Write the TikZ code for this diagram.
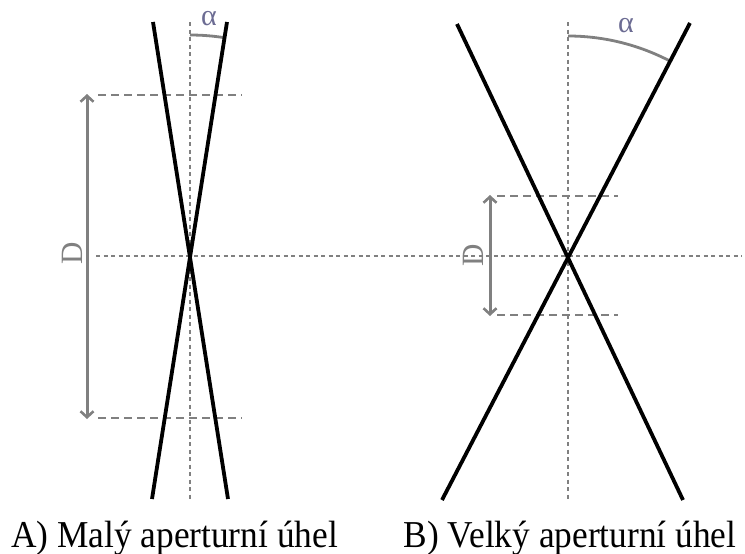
\documentclass[tikz,border=0pt]{standalone}
\usepackage{fontspec}
\setmainfont{Liberation Serif}
\usetikzlibrary{arrows.meta}
\begin{document}
\begin{tikzpicture}[x=1pt,y=-1pt,
  ray/.style={line width=3.8pt, black},
  guide/.style={gray, line width=2.8pt, dash pattern=on 8pt off 5pt},
  axis/.style={gray, line width=1.4pt, dash pattern=on 4pt off 3.5pt},
  dimarrow/.style={gray, line width=3pt, {Straight Barb[length=6pt,width=13pt,line width=2.6pt]}-{Straight Barb[length=6pt,width=13pt,line width=2.6pt]}},
  anglearc/.style={gray, line width=2.8pt},
  dlbl/.style={text=gray, font=\fontsize{31}{31}\selectfont, inner sep=0pt, rotate=90},
  albl/.style={text=gray!85!blue, font=\fontsize{30}{30}\selectfont, inner sep=0pt},
  caption/.style={font=\fontsize{38}{40}\selectfont, inner sep=0pt, anchor=base}]
\useasboundingbox (0,0) rectangle (745,554);
% coordinates
\coordinate (hl) at (96,256);
\coordinate (hr) at (742,256);
% left figure
\coordinate (LC) at (190,256);
\coordinate (LAt) at (190,22);
\coordinate (LAb) at (190,500);
\coordinate (LTL) at (153,22);
\coordinate (LBR) at (228,499);
\coordinate (LTR) at (227,22);
\coordinate (LBL) at (152,499);
\coordinate (LG1a) at (98,95);
\coordinate (LG1b) at (242,95);
\coordinate (LG2a) at (98,418);
\coordinate (LG2b) at (242,418);
\coordinate (LDa) at (87,94);
\coordinate (LDb) at (87,419);
% right figure
\coordinate (RC) at (568,256);
\coordinate (RAt) at (568,22);
\coordinate (RAb) at (568,500);
\coordinate (RTL) at (457,24);
\coordinate (RBR) at (683,500);
\coordinate (RTR) at (690,23);
\coordinate (RBL) at (442,500);
\coordinate (RG1a) at (497,196);
\coordinate (RG1b) at (618,196);
\coordinate (RG2a) at (497,315);
\coordinate (RG2b) at (618,315);
\coordinate (RDa) at (490,195);
\coordinate (RDb) at (490,316);
% axes
\draw[axis] (hl) -- (hr);
\draw[axis] (LAt) -- (LAb);
\draw[axis] (RAt) -- (RAb);
% guides
\draw[guide] (LG1a) -- (LG1b);
\draw[guide] (LG2a) -- (LG2b);
\draw[guide] (RG1a) -- (RG1b);
\draw[guide] (RG2a) -- (RG2b);
% dimension arrows
\draw[dimarrow] (LDa) -- (LDb);
\draw[dimarrow] (RDa) -- (RDb);
\node[dlbl] (LD) at (72,253) {D};
\node[dlbl] (RD) at (473,255) {D};
% angle arcs
\draw[anglearc] (190,35) arc[start angle=-90, end angle=-81, radius=221];
\draw[anglearc] (568,36) arc[start angle=-90, end angle=-62.4, radius=220];
\node[albl] (La) at (209,19) {α};
\node[albl] (Ra) at (626,26) {α};
% rays
\draw[ray] (LTL) -- (LBR);
\draw[ray] (LTR) -- (LBL);
\draw[ray] (RTL) -- (RBR);
\draw[ray] (RTR) -- (RBL);
% captions
\node[caption] (capA) at (174.5,547) {\scalebox{0.93}[1]{A) Malý aperturní úhel}};
\node[caption] (capB) at (570,547) {\scalebox{0.93}[1]{B) Velký aperturní úhel}};
\end{tikzpicture}
\end{document}
